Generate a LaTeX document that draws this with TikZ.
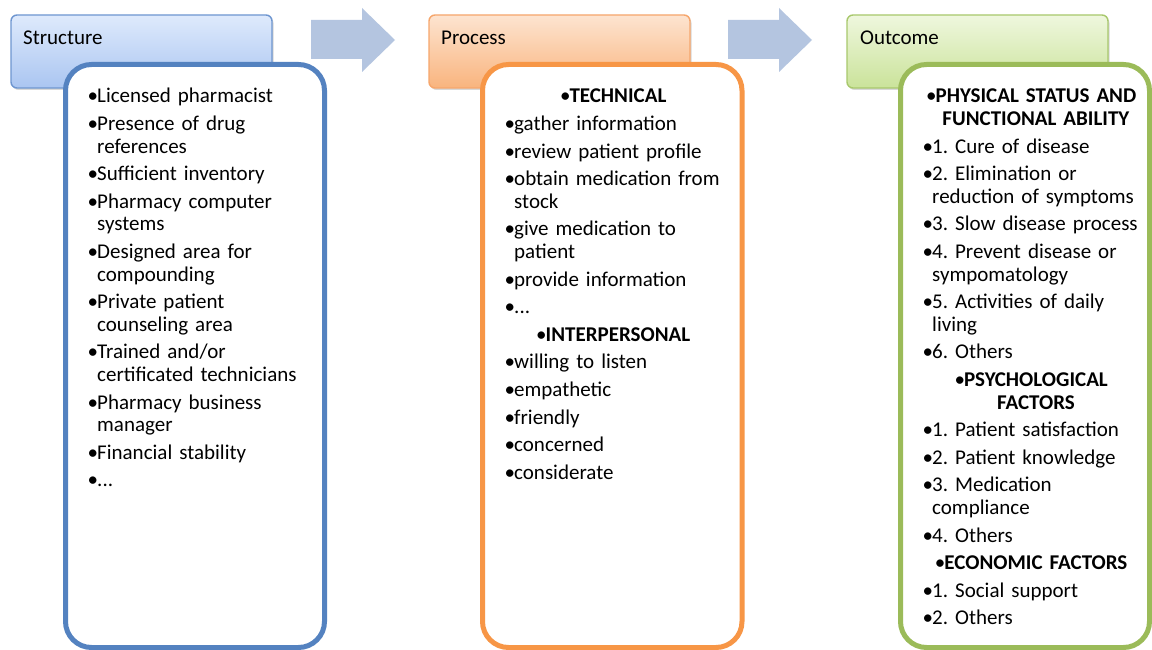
\documentclass[tikz,border=0pt]{standalone}
\usepackage{fontspec}
\setmainfont{Carlito}
\usetikzlibrary{shadows}
\definecolor{sLine}{RGB}{84,130,192}
\definecolor{pLine}{RGB}{247,150,70}
\definecolor{oLine}{RGB}{155,187,89}
\definecolor{sHdrLine}{RGB}{110,150,208}
\definecolor{pHdrLine}{RGB}{246,166,108}
\definecolor{oHdrLine}{RGB}{168,200,108}
\definecolor{sTop}{RGB}{222,234,252}
\definecolor{sBot}{RGB}{170,197,241}
\definecolor{pTop}{RGB}{253,228,208}
\definecolor{pBot}{RGB}{249,180,126}
\definecolor{oTop}{RGB}{239,247,222}
\definecolor{oBot}{RGB}{202,227,154}
\definecolor{arrowFill}{RGB}{180,197,224}
\newcommand\pit[1]{\par\hangindent=9.5pt\hangafter=1\noindent\makebox[9.5pt][l]{\textbullet}\strut#1\par}
\newcommand\cit[1]{\par{\centering\hangindent=9.5pt\hangafter=1\noindent\makebox[9.5pt][l]{\textbullet}\strut\textbf{#1}\par}}
\newcommand\listsetup{\setlength{\parskip}{5pt}\frenchspacing\hyphenpenalty=10000\exhyphenpenalty=10000\relax}
\begin{document}
\begin{tikzpicture}[x=1pt,y=-1pt,
  hdrbox/.style={rounded corners=6pt, line width=1.4pt,
    drop shadow={shadow xshift=1.5pt, shadow yshift=-2pt, opacity=0.25, fill=black!60}},
  bodybox/.style={rounded corners=26pt, line width=5pt, fill=white},
  hdrtext/.style={anchor=base west, inner sep=0pt, font=\fontsize{21}{22.6}\selectfont},
  listtext/.style={anchor=north west, inner sep=0pt, text width=217pt, align=left,
    font=\fontsize{21}{22.6}\selectfont},
  flowarrow/.style={fill=arrowFill, draw=none}
]
\useasboundingbox (0,0) rectangle (1152,650);
\fill[white] (0,0) rectangle (1152,650);

% header boxes
\path[hdrbox, draw=sHdrLine, top color=sTop, bottom color=sBot] (11,15) rectangle (272,88);
\path[hdrbox, draw=pHdrLine, top color=pTop, bottom color=pBot] (429,15) rectangle (690,88);
\path[hdrbox, draw=oHdrLine, top color=oTop, bottom color=oBot] (847,15) rectangle (1108,88);

\node[hdrtext] (hS) at (23,45) {Structure};
\node[hdrtext] (hP) at (441,45) {Process};
\node[hdrtext] (hO) at (860,45) {Outcome};

% arrows
\fill[flowarrow] (311,20) -- (362,20) -- (362,8) -- (395,40) -- (362,72) -- (362,59) -- (311,59) -- cycle;
\fill[flowarrow] (728,20) -- (779,20) -- (779,8) -- (812,40) -- (779,72) -- (779,59) -- (728,59) -- cycle;

% body boxes
\draw[bodybox, draw=sLine] (65.5,64.5) rectangle (324.5,647.5);
\draw[bodybox, draw=pLine] (482.5,64.5) rectangle (742,647.5);
\draw[bodybox, draw=oLine] (900.5,64.5) rectangle (1149.5,647.5);

\node[listtext] (lS) at (87.5,75.2) {\listsetup
\pit{Licensed pharmacist}
\pit{Presence of drug\break references}
\pit{Sufficient inventory}
\pit{Pharmacy computer\break systems}
\pit{Designed area for\break compounding}
\pit{Private patient\break counseling area}
\pit{Trained and/or\break certificated technicians}
\pit{Pharmacy business\break manager}
\pit{Financial stability}
\pit{...}};

\node[listtext] (lP) at (504.5,75.2) {\listsetup
\cit{TECHNICAL}
\pit{gather information}
\pit{review patient profile}
\pit{obtain medication from\break stock}
\pit{give medication to\break patient}
\pit{provide information}
\pit{...}
\cit{INTERPERSONAL}
\pit{willing to listen}
\pit{empathetic}
\pit{friendly}
\pit{concerned}
\pit{considerate}};

\node[listtext] (lO) at (922.5,75.2) {\listsetup
\cit{PHYSICAL STATUS AND\break FUNCTIONAL ABILITY}
\pit{1. Cure of disease}
\pit{2. Elimination or\break reduction of symptoms}
\pit{3. Slow disease process}
\pit{4. Prevent disease or\break sympomatology}
\pit{5. Activities of daily\break living}
\pit{6. Others}
\cit{PSYCHOLOGICAL\break FACTORS}
\pit{1. Patient satisfaction}
\pit{2. Patient knowledge}
\pit{3. Medication\break compliance}
\pit{4. Others}
\cit{ECONOMIC FACTORS}
\pit{1. Social support}
\pit{2. Others}};
\end{tikzpicture}
\end{document}
